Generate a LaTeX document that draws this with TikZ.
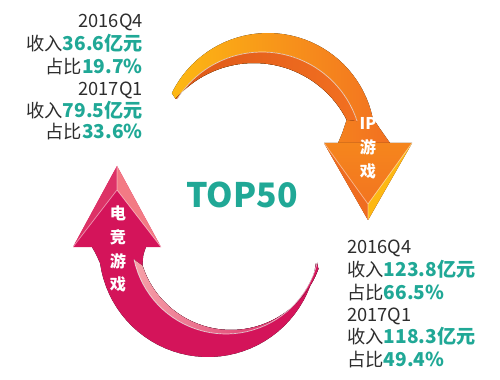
\documentclass[tikz,border=0pt]{standalone}
\usepackage{fontspec}
\setmainfont{Noto Sans CJK SC}
\usepackage{tikz}
\usetikzlibrary{positioning}

\definecolor{valteal}{RGB}{32,168,150}
\definecolor{txtgray}{RGB}{45,45,45}
\definecolor{ipyellow}{RGB}{253,184,19}
\definecolor{iporange}{RGB}{242,112,33}
\definecolor{ipdark}{RGB}{222,88,24}
\definecolor{eskred}{RGB}{212,20,90}
\definecolor{eskpink}{RGB}{243,122,132}

\newcommand{\val}[1]{{\fontsize{13.6}{15}\selectfont\bfseries\color{valteal}#1}}

\begin{document}
\begin{tikzpicture}[x=0.025cm,y=-0.025cm]
  \tikzstyle{qtext}=[font=\fontsize{13}{15}\selectfont,text=txtgray,inner sep=0pt]
  \tikzstyle{tagtext}=[font=\fontsize{11.5}{17}\selectfont\bfseries,text=white,
        inner sep=0pt,align=center]
  \tikzstyle{gloss}=[white,opacity=0.7,line width=0.5pt]
  \useasboundingbox (0,0) rectangle (500,380);

  % IP arrow (orange, top)
  \fill[left color=ipyellow,right color=iporange]
    plot[domain=-154:-12,samples=40,variable=\t] ({268+107*cos(\t)},{140+107*sin(\t)})
    .. controls (378,126) .. (390,143) -- (338,143)
    .. controls (342,134) .. ({254+104*cos(-27)},{167+104*sin(-27)})
    -- plot[domain=-27:-139,samples=40,variable=\t] ({254+104*cos(\t)},{167+104*sin(\t)})
    -- cycle;
  \fill[left color=ipdark,right color=iporange]
    plot[domain=-148:-18,samples=40,variable=\t] ({262+100*cos(\t)},{152+100*sin(\t)})
    -- plot[domain=-27:-139,samples=40,variable=\t] ({254+104*cos(\t)},{167+104*sin(\t)})
    -- cycle;
  \draw[gloss] plot[domain=-148:-18,samples=40,variable=\t] ({262+100*cos(\t)},{152+100*sin(\t)});
  \fill[top color=iporange!70!ipyellow,bottom color=iporange] (324,143) -- (412,143) -- (368,220) -- cycle;
  \fill[iporange!85!ipdark] (324,143) -- (368,204) -- (368,220) -- cycle;
  \fill[ipyellow] (412,143) -- (368,204) -- (368,220) -- cycle;
  \draw[gloss,opacity=0.5] (324,143) -- (368,204) -- (412,143) (368,204) -- (368,220);
  \node[tagtext] (ip) at (368,148) {IP\\游\\戏};

  % esports arrow (pink, bottom)
  \fill[left color=eskred,middle color=eskpink,right color=eskred]
    plot[domain=8:172,samples=40,variable=\t] ({208+109*cos(\t)},{248+109*sin(\t)})
    .. controls (96,254) .. (92,247) -- (146,247)
    .. controls (143,255) .. ({231+93*cos(162)},{237+93*sin(162)})
    -- plot[domain=162:20,samples=40,variable=\t] ({231+93*cos(\t)},{237+93*sin(\t)})
    -- cycle;
  \fill[left color=eskpink!70!white,right color=eskred]
    plot[domain=14:168,samples=40,variable=\t] ({226+94*cos(\t)},{240+94*sin(\t)})
    -- plot[domain=162:20,samples=40,variable=\t] ({231+93*cos(\t)},{237+93*sin(\t)})
    -- cycle;
  \draw[gloss] plot[domain=14:168,samples=40,variable=\t] ({226+94*cos(\t)},{240+94*sin(\t)});
  \fill[eskred] (73,247) -- (161,247) -- (117,166) -- cycle;
  \fill[eskred!70!eskpink] (73,247) -- (117,190) -- (117,166) -- cycle;
  \fill[eskpink] (161,247) -- (117,190) -- (117,166) -- cycle;
  \draw[gloss,opacity=0.5] (73,247) -- (117,190) -- (161,247) (117,190) -- (117,166);
  \node[tagtext] (esk) at (118,249) {电\\竞\\游\\戏};

  \node[font=\fontsize{24}{28}\selectfont\bfseries,text=valteal] (top) at (242,195) {TOP50};

  % 2016Q4 / 2017Q1, IP games
  \node[qtext,anchor=base east] (a1) at (143,28) {2016Q4};
  \node[qtext,anchor=base east] (a2) at (143,51) {收入\val{36.6亿元}};
  \node[qtext,anchor=base east] (a3) at (143,74) {占比\val{19.7\%}};
  \node[qtext,anchor=base east] (a4) at (143,96) {2017Q1};
  \node[qtext,anchor=base east] (a5) at (143,118) {收入\val{79.5亿元}};
  \node[qtext,anchor=base east] (a6) at (143,139) {占比\val{33.6\%}};

  % 2016Q4 / 2017Q1, esports
  \node[qtext,anchor=base west] (b1) at (347,253) {2016Q4};
  \node[qtext,anchor=base west] (b2) at (347,276) {收入\val{123.8亿元}};
  \node[qtext,anchor=base west] (b3) at (347,299) {占比\val{66.5\%}};
  \node[qtext,anchor=base west] (b4) at (347,321) {2017Q1};
  \node[qtext,anchor=base west] (b5) at (347,343) {收入\val{118.3亿元}};
  \node[qtext,anchor=base west] (b6) at (347,366) {占比\val{49.4\%}};
\end{tikzpicture}
\end{document}
